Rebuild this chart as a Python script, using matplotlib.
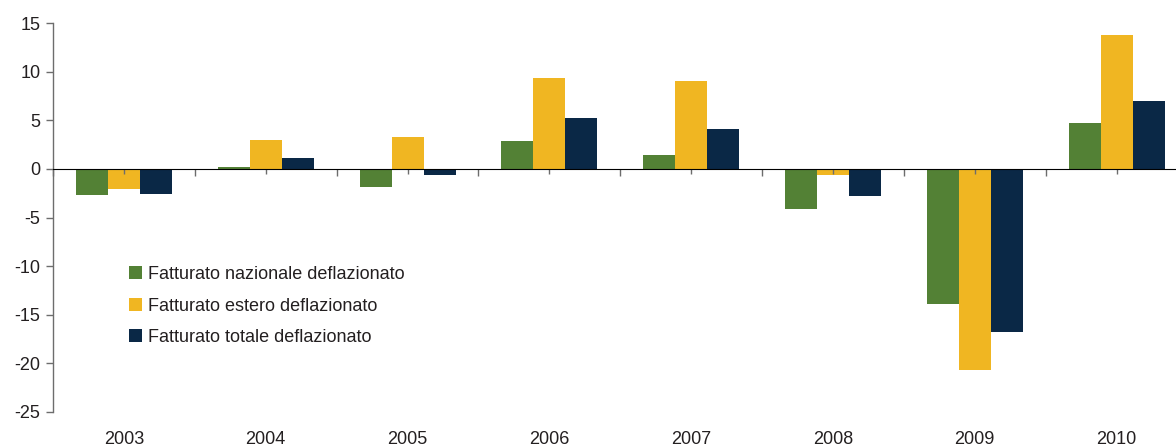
import numpy as np
import matplotlib
matplotlib.use("Agg")
import matplotlib.pyplot as plt

plt.rcParams['font.family'] = ['Liberation Sans', 'DejaVu Sans']
plt.rcParams['axes.unicode_minus'] = False

years = ["2003", "2004", "2005", "2006", "2007", "2008", "2009", "2010"]
nazionale = [-2.65, 0.24, -1.82, 2.88, 1.44, -4.12, -13.87, 4.74]
estero = [-2.03, 2.99, 3.30, 9.37, 9.06, -0.58, -20.67, 13.83]
totale = [-2.54, 1.13, -0.58, 5.25, 4.12, -2.78, -16.75, 7.00]
series_names = ["Fatturato nazionale deflazionato",
                "Fatturato estero deflazionato",
                "Fatturato totale deflazionato"]
colors = ["#538135", "#F0B622", "#0A2846"]

text_col = "#231F20"
axis_col = "#6d6d6d"

fig = plt.figure(figsize=(11.76, 4.48), dpi=100)
ax = fig.add_axes([0.0451, 0.081, 0.955, 0.867])

x = np.arange(len(years))
w = 0.2256
for i, (vals, name, c) in enumerate(zip([nazionale, estero, totale], series_names, colors)):
    ax.bar(x + (i - 1) * w, vals, width=w, color=c, label=name, zorder=2)

ax.set_xlim(-0.5, 7.42)
ax.set_ylim(-25, 15)
ax.set_yticks(np.arange(-25, 16, 5))
ax.tick_params(axis='y', direction='out', length=5, width=1, color=axis_col,
               labelsize=13, labelcolor=text_col, pad=4)

# year labels at the bottom, no bottom spine
ax.set_xticks(x)
ax.set_xticklabels(years)
ax.tick_params(axis='x', length=0, labelsize=13, labelcolor=text_col, pad=14)

for s in ['top', 'right', 'bottom']:
    ax.spines[s].set_visible(False)
ax.spines['left'].set_color(axis_col)
ax.spines['left'].set_linewidth(1)

# zero line with ticks (boundaries long, centres short)
zero = ax.secondary_xaxis(25 / 40)
zero.set_zorder(3)
zero.spines['bottom'].set_color(axis_col)
zero.spines['bottom'].set_linewidth(1.2)
zero.xaxis.set_ticks_position('bottom')
zero.set_xticks(np.arange(-0.5, 8, 1))
zero.set_xticks(x, minor=True)
zero.tick_params(axis='x', which='both', direction='out', width=1,
                 color=axis_col, labelbottom=False, labeltop=False,
                 bottom=True, top=False)
zero.tick_params(axis='x', which='major', length=5)
zero.tick_params(axis='x', which='minor', length=3.5)

leg = ax.legend(loc='upper left', bbox_to_anchor=(0.0677, 0.375), frameon=False,
                fontsize=13, handlelength=0.7, handleheight=0.7,
                handletextpad=0.35, labelspacing=0.8, borderaxespad=0,
                borderpad=0)
for t in leg.get_texts():
    t.set_color(text_col)

fig.savefig("out.png", dpi=100)
